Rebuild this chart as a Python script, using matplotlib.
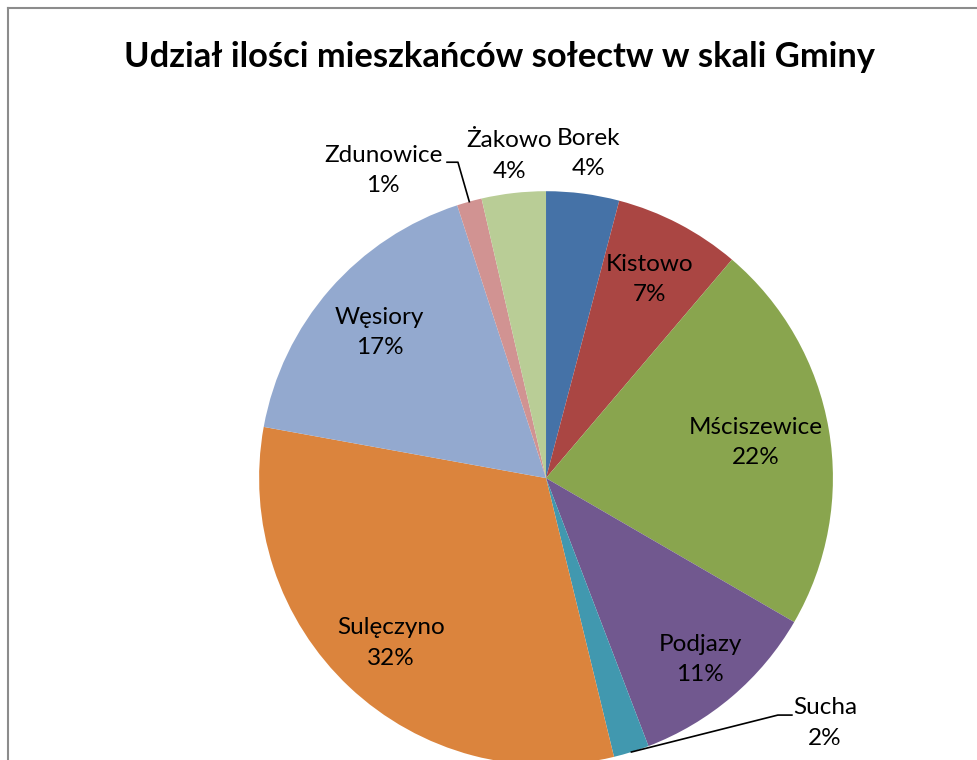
import numpy as np
import matplotlib
matplotlib.use("Agg")
import matplotlib.pyplot as plt
from matplotlib.lines import Line2D

plt.rcParams['font.family'] = ['Lato', 'DejaVu Sans']

# dane
solectwa = ['Borek', 'Kistowo', 'Mściszewice', 'Podjazy', 'Sucha',
            'Sulęczyno', 'Węsiory', 'Zdunowice', 'Żakowo']
udzial = [4.1, 7.1, 22.1, 10.8, 2.0, 31.6, 17.1, 1.4, 3.6]
kolory = ['#4572A7', '#AA4643', '#89A54E', '#71588F', '#4198AF',
          '#DB843D', '#93A9CF', '#D19392', '#B9CD96']

# odległość etykiety od środka (w promieniach)
odleglosc = [1.14, 0.78, 0.74, 0.83, None, 0.79, 0.77, None, 1.13]
# etykiety z linią odniesienia: (tekst x, y), (kolanko x, y), (koniec linii x, y)
odnosniki = {
    'Sucha': ((0.972, -0.854), (0.808, -0.826), (0.857, -0.826)),
    'Zdunowice': ((-0.568, 1.073), (-0.307, 1.101), (-0.345, 1.101)),
}

fig = plt.figure(figsize=(9.78, 7.6), dpi=100)
ax = fig.add_axes([0.2648, -0.00658, 0.587, 0.755])

wedges, _ = ax.pie(udzial, colors=kolory, startangle=90, counterclock=False,
                   radius=1, wedgeprops=dict(linewidth=0))
ax.set_xlim(-1, 1)
ax.set_ylim(-1, 1)
ax.set_aspect('equal')
ax.axis('off')

suma = sum(udzial)
for w, nazwa, v, d in zip(wedges, solectwa, udzial, odleglosc):
    txt = f"{nazwa}\n{round(v / suma * 100):.0f}%"
    th = np.deg2rad((w.theta1 + w.theta2) / 2)
    if nazwa in odnosniki:
        (tx, ty), (ex, ey), (hx, hy) = odnosniki[nazwa]
        px, py = np.cos(th), np.sin(th)
        ax.plot([px, ex, hx], [py, ey, hy], color='black', lw=1.2,
                clip_on=False)
        ax.text(tx, ty, txt, ha='center', va='center', fontsize=17.5,
                linespacing=1.55, clip_on=False)
    else:
        ax.text(d * np.cos(th), d * np.sin(th), txt, ha='center',
                va='center', fontsize=17.5, linespacing=1.55)

fig.text(0.511, 0.925, 'Udział ilości mieszkańców sołectw w skali Gminy',
         ha='center', va='center', fontsize=24.8, fontweight='bold')

# ramka wykresu
fig.add_artist(Line2D([8 / 978, 8 / 978], [0, 1 - 8 / 760],
                      transform=fig.transFigure, color='#8c8c8c', lw=1.5))
fig.add_artist(Line2D([8 / 978, 1], [1 - 8 / 760, 1 - 8 / 760],
                      transform=fig.transFigure, color='#8c8c8c', lw=1.5))

fig.savefig('out.png', dpi=100)
